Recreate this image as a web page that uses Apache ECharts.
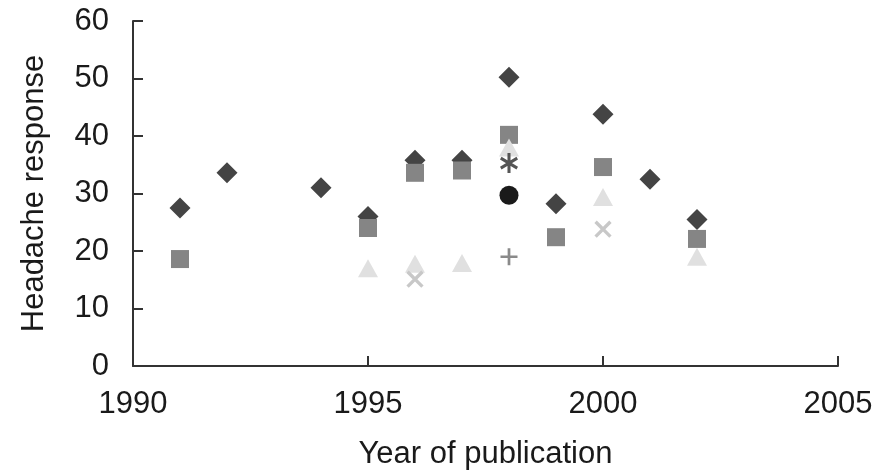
<!DOCTYPE html>
<html>
<head>
<meta charset="utf-8">
<script src="https://cdn.jsdelivr.net/npm/echarts@6/dist/echarts.min.js"></script>
<style>
  html, body { margin: 0; padding: 0; background: #fff; }
  #chart { width: 891px; height: 472px; }
</style>
</head>
<body>
<div id="chart"></div>
<script>
// values, one list per marker style
const diamondYears = [1991, 1992, 1994, 1995, 1996, 1997, 1998, 1999, 2000, 2001, 2002];
const diamondValues = [27.5, 33.6, 31, 26, 35.8, 35.8, 50.2, 28.2, 43.8, 32.5, 25.5];

const squareYears = [1991, 1995, 1996, 1997, 1998, 1999, 2000, 2002];
const squareValues = [18.6, 24, 33.6, 34, 40.2, 22.4, 34.6, 22.1];

const triangleYears = [1995, 1996, 1997, 1998, 2000, 2002];
const triangleValues = [17, 17.8, 17.9, 38, 29.4, 19];

const crossYears = [1996, 2000];
const crossValues = [15.1, 23.8];

const starYears = [1998];
const starValues = [35.3];

const circleYears = [1998];
const circleValues = [29.7];

const plusYears = [1998];
const plusValues = [19];

const xTicks = [1990, 1995, 2000, 2005];
const yTicks = [0, 10, 20, 30, 40, 50, 60];

const FONT = 'Liberation Sans';

// marker shapes
const plusPath = 'path://M4.2,0L5.8,0L5.8,4.2L10,4.2L10,5.8L5.8,5.8L5.8,10L4.2,10L4.2,5.8L0,5.8L0,4.2L4.2,4.2Z';
const starPath = 'path://M4.2,0L5.8,0L5.8,10L4.2,10Z' +
    'M8.93,1.81L9.73,3.19L1.07,8.19L0.27,6.81Z' +
    'M0.27,3.19L1.07,1.81L9.73,6.81L8.93,8.19Z';

const pairs = (xs, ys) => xs.map((x, i) => [x, ys[i]]);

const makeSeries = (name, xs, ys, symbol, size, color, rotate) => ({
    name: name,
    type: 'scatter',
    data: pairs(xs, ys),
    symbol: symbol,
    symbolSize: size,
    symbolRotate: rotate || 0,
    itemStyle: { color: color, opacity: 1 },
    emphasis: { disabled: true },
    silent: true
});

const chart = echarts.init(document.getElementById('chart'));
chart.setOption({
    animation: false,
    backgroundColor: '#fff',
    grid: { left: 133, right: 53, top: 21, bottom: 106, containLabel: false, outerBoundsMode: 'none' },
    xAxis: {
        type: 'value',
        min: xTicks[0],
        max: xTicks[xTicks.length - 1],
        interval: 5,
        name: 'Year of publication',
        nameLocation: 'middle',
        nameGap: 73,
        nameTextStyle: { color: '#1a1a1a', fontSize: 31, fontFamily: FONT },
        axisLine: { show: true, lineStyle: { color: '#333', width: 2 } },
        axisTick: { show: true, inside: true, length: 10, lineStyle: { color: '#333', width: 2 } },
        splitLine: { show: false },
        axisLabel: { color: '#1a1a1a', fontSize: 31, fontFamily: FONT, margin: 23, formatter: (v) => String(v) }
    },
    yAxis: {
        type: 'value',
        min: yTicks[0],
        max: yTicks[yTicks.length - 1],
        interval: 10,
        name: 'Headache response',
        nameLocation: 'middle',
        nameGap: 83,
        nameTextStyle: { color: '#1a1a1a', fontSize: 31, fontFamily: FONT },
        axisLine: { show: true, lineStyle: { color: '#333', width: 2 } },
        axisTick: { show: true, inside: true, length: 10, lineStyle: { color: '#333', width: 2 } },
        splitLine: { show: false },
        axisLabel: { color: '#1a1a1a', fontSize: 31, fontFamily: FONT, margin: 24 }
    },
    series: [
        makeSeries('diamond', diamondYears, diamondValues, 'diamond', [21, 21], '#444'),
        makeSeries('square', squareYears, squareValues, 'rect', [18, 18], '#858585'),
        makeSeries('triangle', triangleYears, triangleValues, 'triangle', [20, 18], '#e0e0e0'),
        makeSeries('cross', crossYears, crossValues, plusPath, [21, 21], '#c8c8c8', 45),
        makeSeries('star', starYears, starValues, starPath, [18, 20], '#555'),
        makeSeries('circle', circleYears, circleValues, 'circle', 19, '#1a1a1a'),
        makeSeries('plus', plusYears, plusValues, plusPath, [17, 17], '#8a8a8a')
    ]
});
</script>
</body>
</html>
